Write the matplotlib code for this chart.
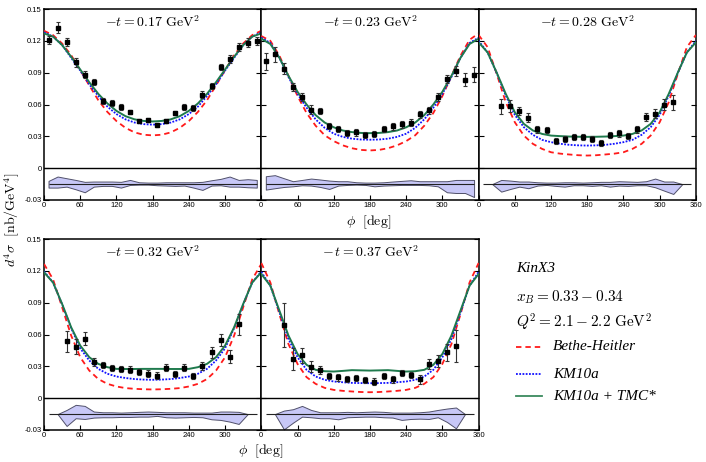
import numpy as np
import matplotlib
matplotlib.use('Agg')
import matplotlib.pyplot as plt
from matplotlib.lines import Line2D

plt.rcParams['mathtext.fontset'] = 'cm'
plt.rcParams['font.family'] = ['Liberation Sans', 'DejaVu Sans']

# phi grid of the model curves and the phi bins of the data
phi_grid = np.arange(0, 361, 15)
phi_bins = np.arange(7.5, 360, 15)

t_labels = [r'$-t = 0.17\ \mathrm{GeV}^2$', r'$-t = 0.23\ \mathrm{GeV}^2$',
            r'$-t = 0.28\ \mathrm{GeV}^2$', r'$-t = 0.32\ \mathrm{GeV}^2$',
            r'$-\,t = 0.37\ \mathrm{GeV}^2$']

# Bethe-Heitler (red dashed)
bh1 = [0.1295, 0.1254, 0.1175, 0.1065, 0.0923, 0.0780, 0.0640, 0.0530, 0.0444, 0.0380, 0.0337, 0.0315, 0.0309,
       0.0315, 0.0337, 0.0380, 0.0444, 0.0530, 0.0640, 0.0780, 0.0923, 0.1065, 0.1175, 0.1254, 0.1295]
bh2 = [0.1245, 0.120, 0.106, 0.087, 0.068, 0.052, 0.040, 0.031, 0.0255, 0.0215, 0.0188, 0.0172, 0.0167,
       0.0172, 0.0188, 0.0215, 0.0255, 0.031, 0.040, 0.052, 0.068, 0.087, 0.106, 0.121, 0.127]
bh3 = [0.1255, 0.114, 0.0888, 0.0621, 0.0433, 0.0307, 0.0229, 0.0182, 0.015, 0.0137, 0.0129, 0.0122, 0.0119,
       0.0122, 0.0129, 0.0137, 0.015, 0.0182, 0.0229, 0.0307, 0.0433, 0.0621, 0.0888, 0.114, 0.1255]
bh4 = [0.1265, 0.112, 0.0857, 0.059, 0.0386, 0.026, 0.018, 0.0135, 0.011, 0.0095, 0.0088, 0.0084, 0.0082,
       0.0084, 0.0088, 0.0095, 0.011, 0.0135, 0.018, 0.026, 0.0386, 0.059, 0.0857, 0.112, 0.1265]
bh5 = [0.1274, 0.109, 0.079, 0.051, 0.0323, 0.0198, 0.0135, 0.0097, 0.0078, 0.0069, 0.0063, 0.0058, 0.0056,
       0.0058, 0.0063, 0.0069, 0.0078, 0.0097, 0.0135, 0.0198, 0.0323, 0.051, 0.079, 0.109, 0.1274]

# KM10a (blue dotted)
km1 = [0.128, 0.124, 0.116, 0.104, 0.092, 0.079, 0.068, 0.058, 0.051, 0.046, 0.043, 0.0415, 0.041,
       0.0415, 0.043, 0.046, 0.051, 0.058, 0.068, 0.079, 0.092, 0.104, 0.116, 0.124, 0.128]
km2 = [0.123, 0.118, 0.104, 0.086, 0.070, 0.057, 0.046, 0.038, 0.0325, 0.0295, 0.0278, 0.027, 0.0268,
       0.027, 0.0278, 0.0295, 0.0325, 0.038, 0.046, 0.057, 0.070, 0.086, 0.104, 0.118, 0.123]
km3 = [0.120, 0.109, 0.0897, 0.0684, 0.0502, 0.0386, 0.0314, 0.0267, 0.0245, 0.023, 0.022, 0.0215, 0.0213,
       0.0215, 0.022, 0.023, 0.0245, 0.0267, 0.0314, 0.0386, 0.0502, 0.0684, 0.0897, 0.109, 0.120]
km4 = [0.1195, 0.109, 0.0885, 0.066, 0.047, 0.0355, 0.0276, 0.023, 0.0204, 0.019, 0.018, 0.0175, 0.0173,
       0.0175, 0.018, 0.019, 0.0204, 0.023, 0.0276, 0.0355, 0.047, 0.066, 0.0885, 0.109, 0.1195]
km5 = [0.119, 0.106, 0.081, 0.0558, 0.0386, 0.0267, 0.0204, 0.0173, 0.0157, 0.015, 0.0144, 0.0142, 0.0141,
       0.0142, 0.0144, 0.015, 0.0157, 0.0173, 0.0204, 0.0267, 0.0386, 0.0558, 0.081, 0.106, 0.119]

# KM10a + TMC* (green solid)
tmc1 = [0.127, 0.124, 0.116, 0.105, 0.093, 0.081, 0.070, 0.061, 0.054, 0.049, 0.046, 0.0445, 0.044,
        0.0445, 0.046, 0.049, 0.054, 0.061, 0.070, 0.081, 0.093, 0.105, 0.116, 0.124, 0.127]
tmc2 = [0.122, 0.117, 0.104, 0.087, 0.072, 0.060, 0.050, 0.043, 0.0385, 0.0355, 0.034, 0.0332, 0.033,
        0.0332, 0.034, 0.0355, 0.0385, 0.043, 0.050, 0.060, 0.072, 0.087, 0.104, 0.117, 0.122]
tmc3 = [0.1186, 0.109, 0.090, 0.070, 0.0527, 0.0417, 0.0355, 0.0323, 0.0307, 0.0302, 0.0298, 0.0296, 0.0295,
        0.0296, 0.0298, 0.0302, 0.0307, 0.0323, 0.0355, 0.0417, 0.0527, 0.070, 0.090, 0.109, 0.1186]
tmc4 = [0.1186, 0.109, 0.0888, 0.0668, 0.0496, 0.0386, 0.0323, 0.0292, 0.0276, 0.0275, 0.0275, 0.0276, 0.0276,
        0.0276, 0.0275, 0.0275, 0.0276, 0.0292, 0.0323, 0.0386, 0.0496, 0.0668, 0.0888, 0.109, 0.1186]
tmc5 = [0.117, 0.106, 0.0825, 0.059, 0.0417, 0.0314, 0.0267, 0.0254, 0.0251, 0.0257, 0.0264, 0.0262, 0.026,
        0.0262, 0.0264, 0.0257, 0.0251, 0.0254, 0.0267, 0.0314, 0.0417, 0.059, 0.0825, 0.106, 0.117]

# measured cross sections
y1 = [0.1207, 0.1324, 0.1188, 0.0996, 0.0882, 0.0813, 0.0633, 0.0614, 0.0577, 0.0529, 0.0444, 0.0457,
      0.0407, 0.0444, 0.0517, 0.0577, 0.0570, 0.0693, 0.0772, 0.0955, 0.1030, 0.1144, 0.1182, 0.1200]
e1 = [0.004, 0.005, 0.004, 0.004, 0.003, 0.003, 0.003, 0.003, 0.003, 0.002, 0.002, 0.002,
      0.002, 0.002, 0.002, 0.003, 0.003, 0.003, 0.003, 0.003, 0.004, 0.004, 0.004, 0.004]
y2 = [0.1008, 0.1075, 0.0939, 0.0766, 0.0671, 0.0551, 0.0539, 0.0400, 0.0372, 0.0334, 0.0337, 0.0315,
      0.0321, 0.0372, 0.0394, 0.0413, 0.0429, 0.0507, 0.0545, 0.0671, 0.0841, 0.0914, 0.0835, 0.0879]
e2 = [0.008, 0.007, 0.005, 0.004, 0.004, 0.004, 0.003, 0.003, 0.003, 0.003, 0.003, 0.003,
      0.003, 0.003, 0.003, 0.003, 0.003, 0.003, 0.003, 0.004, 0.004, 0.005, 0.006, 0.007]
y3 = [0.0583, 0.0586, 0.0539, 0.0476, 0.0366, 0.0362, 0.0255, 0.0274, 0.0296, 0.0296,
      0.0277, 0.0236, 0.0312, 0.0328, 0.0306, 0.0366, 0.0482, 0.0514, 0.0599, 0.0621]
e3 = [0.007, 0.006, 0.004, 0.004, 0.003, 0.003, 0.003, 0.003, 0.003, 0.003,
      0.003, 0.003, 0.003, 0.003, 0.003, 0.003, 0.004, 0.004, 0.005, 0.007]
y4 = [0.0537, 0.0486, 0.0559, 0.0342, 0.0311, 0.0286, 0.0276, 0.0270, 0.0248, 0.0232,
      0.0213, 0.0289, 0.0226, 0.0289, 0.0210, 0.0301, 0.0433, 0.0549, 0.0392, 0.0697]
e4 = [0.010, 0.007, 0.006, 0.004, 0.003, 0.003, 0.003, 0.003, 0.003, 0.003,
      0.003, 0.003, 0.003, 0.003, 0.003, 0.004, 0.005, 0.006, 0.006, 0.010]
y5 = [0.0690, 0.0370, 0.0405, 0.0298, 0.0267, 0.0210, 0.0195, 0.0182, 0.0191, 0.0173,
      0.0157, 0.0210, 0.0176, 0.0235, 0.0220, 0.0176, 0.0323, 0.0351, 0.0433, 0.0493]
e5 = [0.021, 0.010, 0.007, 0.005, 0.004, 0.003, 0.003, 0.003, 0.003, 0.003,
      0.003, 0.003, 0.003, 0.003, 0.003, 0.004, 0.005, 0.006, 0.008, 0.015]

# residual bands drawn under the zero line
band_center = -0.015
bu1 = [-0.0120, -0.0079, -0.0095, -0.0111, -0.0129, -0.0126, -0.0126, -0.0126, -0.0129, -0.0111, -0.0133, -0.0136,
       -0.0136, -0.0133, -0.0133, -0.0133, -0.0133, -0.0129, -0.0114, -0.0101, -0.0079, -0.0111, -0.0104, -0.0111]
bl1 = [-0.0183, -0.0183, -0.0174, -0.0199, -0.0227, -0.0174, -0.0167, -0.0167, -0.0183, -0.0158, -0.0155, -0.0155,
       -0.0161, -0.0164, -0.0167, -0.0164, -0.0183, -0.0205, -0.0164, -0.0161, -0.0174, -0.0174, -0.0180, -0.0183]
bu2 = [-0.0076, -0.0066, -0.0095, -0.0123, -0.0111, -0.0098, -0.0107, -0.0117, -0.0123, -0.0123, -0.0133, -0.0136,
       -0.0136, -0.0133, -0.0126, -0.0120, -0.0114, -0.0123, -0.0123, -0.0123, -0.0123, -0.0111, -0.0111, -0.0111]
bl2 = [-0.0202, -0.0189, -0.0177, -0.0171, -0.0161, -0.0164, -0.0177, -0.0196, -0.0164, -0.0158, -0.0155, -0.0158,
       -0.0171, -0.0164, -0.0161, -0.0158, -0.0158, -0.0158, -0.0161, -0.0171, -0.0227, -0.0234, -0.0234, -0.0272]
bu3 = [-0.015, -0.0111, -0.0117, -0.0126, -0.0126, -0.0133, -0.0136, -0.0136, -0.0133, -0.0133, -0.0136,
       -0.0133, -0.0129, -0.0129, -0.0123, -0.0126, -0.0129, -0.0123, -0.0098, -0.0126, -0.0126, -0.015]
bl3 = [-0.015, -0.0221, -0.0196, -0.0174, -0.0189, -0.0164, -0.0158, -0.0167, -0.0174, -0.0161, -0.0161,
       -0.0167, -0.0161, -0.0174, -0.0164, -0.0167, -0.0161, -0.0161, -0.0180, -0.0212, -0.0243, -0.015]
bu4 = [-0.015, -0.0111, -0.0063, -0.0073, -0.0126, -0.0133, -0.0133, -0.0136, -0.0133, -0.0129, -0.0126,
       -0.0129, -0.0133, -0.0133, -0.0133, -0.0136, -0.0136, -0.0136, -0.0126, -0.0126, -0.0129, -0.015]
bl4 = [-0.015, -0.0262, -0.0189, -0.0196, -0.0183, -0.0180, -0.0180, -0.0177, -0.0177, -0.0174, -0.0174,
       -0.0167, -0.0180, -0.0183, -0.0180, -0.0177, -0.0180, -0.0199, -0.0205, -0.0221, -0.0243, -0.015]
bu5 = [-0.015, -0.0117, -0.0104, -0.0073, -0.0111, -0.0133, -0.0133, -0.0133, -0.0129, -0.0133, -0.0129,
       -0.0126, -0.0129, -0.0136, -0.0136, -0.0136, -0.0133, -0.0126, -0.0111, -0.0098, -0.0088, -0.015]
bl5 = [-0.015, -0.0294, -0.0231, -0.0174, -0.0180, -0.0189, -0.0189, -0.0199, -0.0180, -0.0177, -0.0174,
       -0.0174, -0.0180, -0.0183, -0.0205, -0.0196, -0.0193, -0.0196, -0.0180, -0.0224, -0.0284, -0.015]

panels = [
    (bh1, km1, tmc1, phi_bins, y1, e1, phi_bins, bu1, bl1),
    (bh2, km2, tmc2, phi_bins, y2, e2, phi_bins, bu2, bl2),
    (bh3, km3, tmc3, phi_bins[2:22], y3, e3, phi_bins[1:23], bu3, bl3),
    (bh4, km4, tmc4, phi_bins[2:22], y4, e4, phi_bins[1:23], bu4, bl4),
    (bh5, km5, tmc5, phi_bins[2:22], y5, e5, phi_bins[1:23], bu5, bl5),
]

red, blue, green = '#ff1a1a', '#1010ff', '#1f7a4d'

fig = plt.figure(figsize=(7.06, 4.62), dpi=100)
W, H = 706.0, 462.0
pw = 217.3
boxes = [(44, 9), (44 + pw, 9), (44 + 2 * pw, 9), (44, 239), (44 + pw, 239)]
last_in_row = [False, False, True, False, True]
first_in_row = [True, False, False, True, False]

yt = [-0.03, 0, 0.03, 0.06, 0.09, 0.12, 0.15]
ytl = ['-0.03', '0', '0.03', '0.06', '0.09', '0.12', '0.15']

for i, (bh, km, tmc, px, yv, ev, pb, bu, bl) in enumerate(panels):
    x0, y0 = boxes[i]
    ax = fig.add_axes([x0 / W, 1 - (y0 + 191) / H, pw / W, 191 / H])
    ax.plot(phi_grid, bh, color=red, lw=1.3, ls=(0, (3, 2.2)), zorder=3)
    ax.plot(phi_grid, km, color=blue, lw=1.3, ls=(0, (1, 0.8)), zorder=3)
    ax.plot(phi_grid, tmc, color=green, lw=1.4, zorder=4)
    ax.errorbar(px, yv, yerr=ev, fmt='s', color='black', ecolor='#333333', ms=3.3,
                elinewidth=0.8, capsize=1.6, capthick=0.8, zorder=5)
    ax.fill_between(pb, bl, bu, facecolor='#c8c8f7', edgecolor='#50506a', lw=0.7, zorder=2)
    ax.hlines(band_center, phi_bins[0], phi_bins[-1], color='#222222', lw=0.8, zorder=3)
    ax.axhline(0, color='black', lw=1.0, zorder=3)

    ax.set_xlim(0, 360)
    ax.set_ylim(-0.03, 0.15)
    ax.set_yticks(yt)
    ax.set_xticks([0, 60, 120, 180, 240, 300, 360])
    if last_in_row[i]:
        ax.set_xticklabels(['0', '60', '120', '180', '240', '300', '360'])
    else:
        ax.set_xticklabels(['0', '60', '120', '180', '240', '300', ''])
    if first_in_row[i]:
        ax.set_yticklabels(ytl)
    else:
        ax.set_yticklabels([])
    ax.tick_params(direction='in', length=3.5, width=0.8, labelsize=5.5, pad=1.5,
                   left=True, right=True, top=False, bottom=True)
    for s in ax.spines.values():
        s.set_linewidth(1.1)
    ax.text(0.5, 0.932, t_labels[i], transform=ax.transAxes, ha='center', va='center', fontsize=10)

# axis labels
fig.text(369 / W, 1 - 222 / H, r'$\phi\ \ [\mathrm{deg}]$', ha='center', va='center', fontsize=10)
fig.text(261 / W, 1 - 451 / H, r'$\phi\ \ [\mathrm{deg}]$', ha='center', va='center', fontsize=10)
fig.text(12 / W, 1 - 220 / H, r'$d^4\sigma\ \ [\mathrm{nb/GeV}^4]$', rotation=90,
         ha='center', va='center', fontsize=10)

# legend block
serif_it = dict(family='Liberation Serif', style='italic', fontsize=11, va='center', ha='left')
fig.text(516 / W, 1 - 269 / H, 'KinX3', **serif_it)
fig.text(516 / W, 1 - 297 / H, r'$x_B = 0.33 - 0.34$', fontsize=11, va='center', ha='left')
fig.text(516 / W, 1 - 322 / H, r'$Q^2 = 2.1 - 2.2\ \mathrm{GeV}^2$', fontsize=11, va='center', ha='left')

entries = [('Bethe-Heitler', red, (0, (3, 2.2)), 347),
           ('KM10a', blue, (0, (1, 0.8)), 374),
           ('KM10a + TMC*', '#3a8a5e', '-', 396)]
for lab, col, ls, yp in entries:
    fig.add_artist(Line2D([516 / W, 542 / W], [1 - yp / H, 1 - yp / H], color=col, ls=ls, lw=1.3,
                          transform=fig.transFigure))
    fig.text(553 / W, 1 - yp / H, lab, **serif_it)

fig.savefig('out.png', dpi=100)
